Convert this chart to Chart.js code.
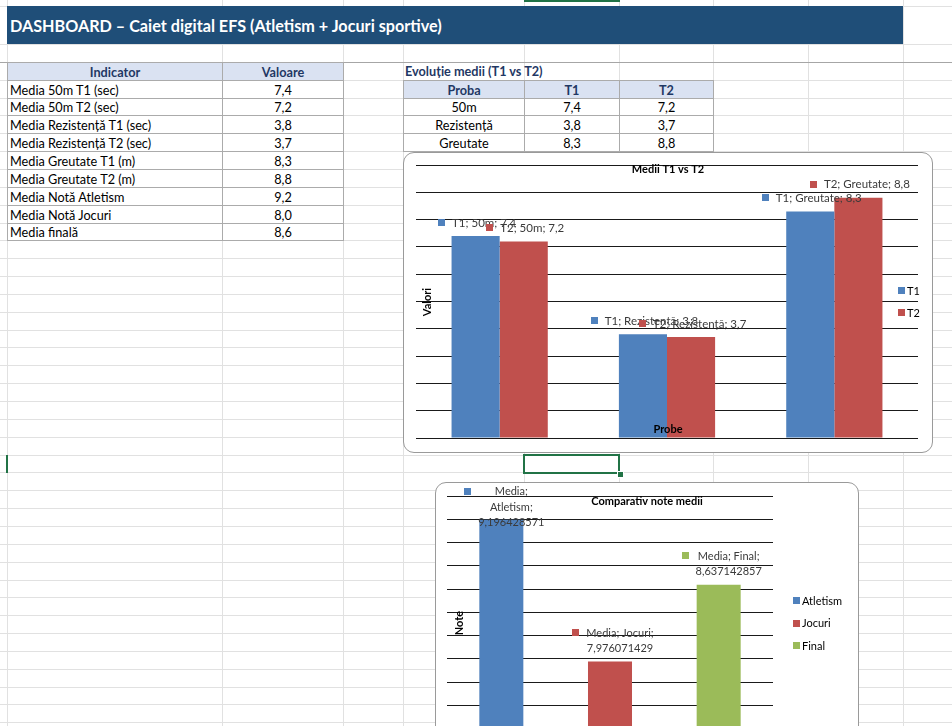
<!DOCTYPE html>
<html>
<head>
<meta charset="utf-8">
<script src="https://cdn.jsdelivr.net/npm/chart.js@4.4.1/dist/chart.umd.min.js"></script>
<style>
  html, body { margin: 0; padding: 0; }
  body { width: 952px; height: 726px; overflow: hidden; position: relative; background: #fff; font-family: Lato, sans-serif; }
  .vl, .hl { position: absolute; background: #e1e1e1; }
  .cell { position: absolute; box-sizing: border-box; font-size: 12.7px; color: #000; white-space: nowrap; display: flex; align-items: center; }
  .bord { border: 1px solid #ababab; }
  .head { background: #dae2f2; color: #1f3864; font-weight: bold; justify-content: center; }
  .num { justify-content: center; }
  .txt { padding-left: 2px; }
  .chartBox { position: absolute; box-sizing: border-box; border: 1px solid #9a9a9a; border-radius: 11px; background: #fff; overflow: hidden; }
  .chartBox canvas { position: absolute; left: 0; top: 0; }
</style>
</head>
<body>
<div id="sheet"></div>
<div class="chartBox" style="left:403px; top:152px; width:530px; height:301px;"><canvas id="mediiChart" width="528" height="299"></canvas></div>
<div class="chartBox" style="left:435px; top:482px; width:424px; height:310px;"><canvas id="noteChart" width="422" height="308"></canvas></div>

<script>
// tabel indicatori
const indicatori = ['Media 50m T1 (sec)', 'Media 50m T2 (sec)', 'Media Rezistență T1 (sec)', 'Media Rezistență T2 (sec)',
  'Media Greutate T1 (m)', 'Media Greutate T2 (m)', 'Media Notă Atletism', 'Media Notă Jocuri', 'Media finală'];
const valoriIndicatori = [7.4, 7.2, 3.8, 3.7, 8.3, 8.8, 9.2, 8.0, 8.6];

// grafic 1
const probe = ['50m', 'Rezistență', 'Greutate'];
const mediiT1 = [7.4, 3.8, 8.3];
const mediiT2 = [7.2, 3.7, 8.8];

// grafic 2
const noteCategorii = ['Atletism', 'Jocuri', 'Final'];
const noteMedii = [9.196428571, 7.976071429, 8.637142857];

const BLUE = '#4f81bd';
const RED = '#c0504d';
const GREEN = '#9bbb59';

const colX = [7, 222, 343, 403, 524, 619, 713, 808, 903];
const rowY = [6];
for (let k = 0; 44 + k * 17.85 < 726; k++) rowY.push(Math.round(44 + k * 17.85));

const fmt1 = (v) => v.toFixed(1).replace('.', ',');
const fmt = (v) => String(v).replace('.', ',');

function buildSheet() {
  const sheet = document.getElementById('sheet');
  let html = '';
  colX.forEach((x) => {
    html += `<div class="vl" style="left:${x}px;top:0;width:1px;height:726px"></div>`;
  });
  rowY.forEach((y) => {
    html += `<div class="hl" style="left:0;top:${y}px;width:952px;height:1px"></div>`;
  });
  html += `<div class="hl" style="left:0;top:${rowY[2]}px;width:952px;height:1px;background:#a6a6a6"></div>`;

  // bara de titlu
  html += `<div class="cell" style="left:7px;top:6px;width:896px;height:38px;background:#1f4e78;color:#fff;font-weight:bold;font-size:16.2px;padding-left:3px">DASHBOARD – Caiet digital EFS (Atletism + Jocuri sportive)</div>`;

  const cell = (cls, x0, x1, r, text) => {
    const top = rowY[r];
    const h = rowY[r + 1] - top + 1;
    html += `<div class="cell ${cls}" style="left:${x0}px;top:${top}px;width:${x1 - x0 + 1}px;height:${h}px">${text}</div>`;
  };

  // tabel stanga
  cell('bord head', 7, 222, 2, 'Indicator');
  cell('bord head', 222, 343, 2, 'Valoare');
  indicatori.forEach((ind, i) => {
    cell('bord txt', 7, 222, 3 + i, ind);
    cell('bord num', 222, 343, 3 + i, fmt1(valoriIndicatori[i]));
  });

  // tabel dreapta
  html += `<div class="cell" style="left:403px;top:${rowY[2]}px;height:${rowY[3] - rowY[2]}px;padding-left:2px;color:#1f3864;font-weight:bold">Evoluție medii (T1 vs T2)</div>`;
  cell('bord head', 403, 524, 3, 'Proba');
  cell('bord head', 524, 619, 3, 'T1');
  cell('bord head', 619, 713, 3, 'T2');
  probe.forEach((p, i) => {
    cell('bord num', 403, 524, 4 + i, p);
    cell('bord num', 524, 619, 4 + i, fmt1(mediiT1[i]));
    cell('bord num', 619, 713, 4 + i, fmt1(mediiT2[i]));
  });

  // celula selectata
  const sTop = rowY[24];
  html += `<div style="position:absolute;left:523px;top:${sTop - 1}px;width:97px;height:20px;box-sizing:border-box;border:2px solid #217346"></div>`;
  html += `<div style="position:absolute;left:617px;top:${sTop + 16}px;width:5px;height:5px;background:#217346;border:1px solid #fff"></div>`;
  html += `<div style="position:absolute;left:6px;top:${sTop}px;width:2px;height:18px;background:#217346"></div>`;
  html += `<div style="position:absolute;left:524px;top:0;width:96px;height:2px;background:#217346"></div>`;
  sheet.innerHTML = html;
}
buildSheet();

function wrapText(ctx, text, maxWidth) {
  const words = text.split(' ');
  const lines = [];
  let line = '';
  words.forEach((w) => {
    const test = line ? line + ' ' + w : w;
    if (line && ctx.measureText(test).width > maxWidth) {
      lines.push(line);
      line = w;
    } else {
      line = test;
    }
  });
  if (line) lines.push(line);
  return lines;
}

// etichete, titluri si legenda desenate peste grafic, ca in Excel
function excelOverlay(o) {
  return {
    id: 'excelOverlay',
    afterDatasetsDraw(chart) {
      const ctx = chart.ctx;
      ctx.save();
      ctx.font = o.labelFont;
      ctx.textBaseline = 'middle';

      chart.data.datasets.forEach((ds, di) => {
        const meta = chart.getDatasetMeta(di);
        meta.data.forEach((bar, i) => {
          const color = Array.isArray(ds.backgroundColor) ? ds.backgroundColor[i] : ds.backgroundColor;
          const text = `${ds.label}; ${chart.data.labels[i]}; ${fmt(ds.data[i])}`;
          const lines = wrapText(ctx, text, o.wrapWidth);
          const maxW = Math.max(...lines.map((l) => ctx.measureText(l).width));
          const total = 7 + o.keyGap + maxW;
          const left = bar.x + o.labelDx - total / 2;
          let top = bar.y - o.above - lines.length * o.lineH;
          if (top < o.minTop) top = o.minTop;
          ctx.fillStyle = color;
          ctx.fillRect(Math.round(left), Math.round(top + o.lineH / 2 - 4), 7, 7);
          ctx.fillStyle = '#3a3a3a';
          ctx.textAlign = 'center';
          lines.forEach((l, k) => {
            ctx.fillText(l, left + 7 + o.keyGap + maxW / 2, top + o.lineH * (k + 0.5));
          });
        });
      });

      ctx.fillStyle = '#000';
      ctx.font = 'bold 11px Lato, sans-serif';
      ctx.textAlign = 'center';
      ctx.fillText(o.title, o.titleX, o.titleY);
      if (o.xTitle) ctx.fillText(o.xTitle, o.xTitleX, o.xTitleY);
      ctx.save();
      ctx.translate(o.yTitleX, o.yTitleY);
      ctx.rotate(-Math.PI / 2);
      ctx.fillText(o.yTitle, 0, 0);
      ctx.restore();

      ctx.font = '11px Lato, sans-serif';
      ctx.textAlign = 'left';
      o.legend.forEach((item, k) => {
        const y = o.legendY + k * o.legendStep;
        ctx.fillStyle = item.color;
        ctx.fillRect(o.legendX, Math.round(y - 4), 7, 7);
        ctx.fillStyle = '#000';
        ctx.fillText(item.text, o.legendX + 9, y);
      });
      ctx.restore();
    },
  };
}

const axisOff = {
  ticks: { display: false },
  grid: { display: false },
  border: { display: false },
};

new Chart(document.getElementById('mediiChart'), {
  type: 'bar',
  data: {
    labels: probe,
    datasets: [
      { label: 'T1', data: mediiT1, backgroundColor: BLUE },
      { label: 'T2', data: mediiT2, backgroundColor: RED },
    ],
  },
  options: {
    responsive: false,
    animation: false,
    events: [],
    categoryPercentage: 0.575,
    barPercentage: 1,
    layout: { padding: { left: 12, right: 14, top: 12, bottom: 6 } },
    scales: {
      x: axisOff,
      y: {
        min: 0,
        max: 10,
        ticks: { display: false, stepSize: 1 },
        grid: { color: '#1a1a1a', lineWidth: 1, drawTicks: false },
        border: { display: false },
      },
    },
    plugins: { legend: { display: false }, tooltip: { enabled: false } },
  },
  plugins: [excelOverlay({
    labelFont: '11.5px Lato, sans-serif',
    wrapWidth: 400, lineH: 14, above: 6, minTop: 2, labelDx: 1.5, keyGap: 7,
    title: 'Medii T1 vs T2', titleX: 264, titleY: 16,
    xTitle: 'Probe', xTitleX: 264, xTitleY: 276,
    yTitle: 'Valori', yTitleX: 23, yTitleY: 149,
    legend: [{ text: 'T1', color: BLUE }, { text: 'T2', color: RED }],
    legendX: 494, legendY: 138, legendStep: 22,
  })],
});

new Chart(document.getElementById('noteChart'), {
  type: 'bar',
  data: {
    labels: noteCategorii,
    datasets: [
      { label: 'Media', data: noteMedii, backgroundColor: [BLUE, RED, GREEN] },
    ],
  },
  options: {
    responsive: false,
    animation: false,
    events: [],
    categoryPercentage: 0.405,
    barPercentage: 1,
    layout: { padding: { left: 11, right: 85, top: 13, bottom: 8 } },
    scales: {
      x: axisOff,
      y: {
        min: 7,
        max: 9.4,
        ticks: { display: false, stepSize: 0.2 },
        grid: { color: '#1a1a1a', lineWidth: 1, drawTicks: false },
        border: { display: false },
      },
    },
    plugins: { legend: { display: false }, tooltip: { enabled: false } },
  },
  plugins: [excelOverlay({
    labelFont: '11px Lato, sans-serif',
    wrapWidth: 74, lineH: 15.5, above: 5, minTop: 1, labelDx: 3, keyGap: 7,
    title: 'Comparativ note medii', titleX: 211, titleY: 18,
    yTitle: 'Note', yTitleX: 23, yTitleY: 140,
    legend: noteCategorii.map((c, i) => ({ text: c, color: [BLUE, RED, GREEN][i] })),
    legendX: 357, legendY: 118, legendStep: 22.5,
  })],
});
</script>
</body>
</html>
